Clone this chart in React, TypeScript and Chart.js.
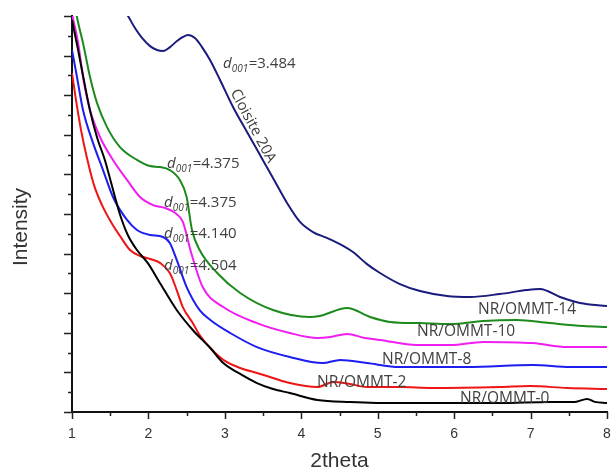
import React, { useEffect, useRef } from "react";
import { Chart, registerables } from "chart.js";

Chart.register(...registerables);

// ---- Data ----
const xTickLabels = ["1", "2", "3", "4", "5", "6", "7", "8"];

const cloisiteX = [1.68, 1.733, 1.824, 1.916, 2.021, 2.112, 2.191, 2.282, 2.374, 2.452, 2.518, 2.609, 2.701, 2.806, 2.937, 3.107, 3.29, 3.46, 3.63, 3.813, 3.983, 4.153, 4.336, 4.506, 4.676, 4.86, 5.03, 5.291, 5.553, 5.906, 6.207, 6.6, 6.953, 7.123, 7.385, 7.647, 8.0];
const cloisiteY = [20.3, 20.0, 19.39, 18.89, 18.48, 18.28, 18.23, 18.43, 18.74, 18.94, 19.04, 18.89, 18.43, 17.78, 16.77, 15.4, 14.14, 12.98, 11.82, 10.56, 9.6, 9.09, 8.79, 8.48, 8.08, 7.47, 7.02, 6.46, 6.11, 5.86, 5.81, 5.96, 6.16, 6.21, 5.81, 5.51, 5.35];

const ommt14X = [1.0, 1.065, 1.144, 1.236, 1.327, 1.458, 1.628, 1.85, 2.02, 2.15, 2.28, 2.41, 2.5, 2.57, 2.67, 2.9, 3.2, 3.63, 4.11, 4.24, 4.6, 4.9, 5.16, 5.55, 5.95, 6.38, 6.82, 7.25, 7.69, 8.0];
const ommt14Y = [21.5, 19.95, 18.64, 16.92, 15.61, 14.39, 13.38, 12.73, 12.42, 12.37, 12.22, 11.72, 10.86, 9.19, 8.18, 7.02, 6.01, 5.15, 4.8, 4.85, 5.25, 4.8, 4.55, 4.49, 4.44, 4.6, 4.65, 4.49, 4.34, 4.29];

const ommt10X = [1.0, 1.08, 1.144, 1.236, 1.366, 1.536, 1.72, 1.89, 2.06, 2.22, 2.35, 2.45, 2.56, 2.71, 2.98, 3.42, 3.85, 4.21, 4.38, 4.6, 4.83, 5.03, 5.51, 5.95, 6.38, 7.03, 7.48, 8.0];
const ommt10Y = [20.1, 18.64, 16.92, 15.25, 13.89, 12.73, 11.72, 10.86, 10.45, 10.3, 10.05, 9.6, 8.03, 6.31, 5.3, 4.49, 3.99, 3.74, 3.79, 3.94, 3.74, 3.64, 3.38, 3.38, 3.54, 3.48, 3.28, 3.28];

const ommt8X = [1.0, 1.065, 1.144, 1.275, 1.406, 1.536, 1.72, 1.85, 2.02, 2.19, 2.28, 2.37, 2.5, 2.67, 2.81, 3.07, 3.42, 3.85, 4.28, 4.51, 4.86, 5.29, 6.17, 7.03, 7.52, 8.0];
const ommt8Y = [18.28, 16.92, 15.25, 13.59, 12.22, 10.86, 9.7, 9.19, 8.94, 8.84, 8.54, 7.68, 6.31, 5.15, 4.65, 3.99, 3.28, 2.78, 2.47, 2.63, 2.47, 2.27, 2.27, 2.37, 2.27, 2.27];

const ommt2X = [1.0, 1.052, 1.118, 1.196, 1.288, 1.393, 1.51, 1.628, 1.759, 1.89, 2.021, 2.151, 2.28, 2.37, 2.45, 2.58, 2.67, 2.81, 2.98, 3.2, 3.42, 3.63, 3.85, 4.21, 4.42, 4.64, 4.86, 5.29, 5.72, 6.6, 6.99, 7.48, 8.0];
const ommt2Y = [17.12, 15.76, 14.24, 12.83, 11.46, 10.45, 9.6, 8.89, 8.18, 7.88, 7.73, 7.53, 7.02, 6.16, 5.3, 4.49, 3.89, 3.23, 2.63, 2.22, 1.97, 1.72, 1.46, 1.26, 1.52, 1.41, 1.26, 1.26, 1.21, 1.26, 1.31, 1.21, 1.16];

const ommt0X = [1.0, 1.08, 1.16, 1.24, 1.33, 1.43, 1.52, 1.63, 1.73, 1.85, 1.99, 2.15, 2.37, 2.58, 2.81, 2.98, 3.2, 3.42, 3.63, 3.85, 4.21, 4.64, 5.29, 5.95, 6.6, 7.25, 7.58, 7.74, 7.84, 8.0];
const ommt0Y = [19.8, 18.28, 16.67, 15.15, 13.84, 12.73, 11.46, 9.95, 8.94, 8.18, 7.53, 6.52, 5.15, 4.14, 3.23, 2.47, 1.92, 1.46, 1.16, 0.96, 0.61, 0.51, 0.45, 0.45, 0.45, 0.51, 0.51, 0.66, 0.51, 0.45];

const seriesNames = ["NR/OMMT-0", "NR/OMMT-2", "NR/OMMT-8", "NR/OMMT-10", "NR/OMMT-14", "Cloisite 20A"];
const seriesX = [ommt0X, ommt2X, ommt8X, ommt10X, ommt14X, cloisiteX];
const seriesY = [ommt0Y, ommt2Y, ommt8Y, ommt10Y, ommt14Y, cloisiteY];
const seriesColors = ["#000000", "#ee1515", "#1d1df0", "#f01ef0", "#1c8a1c", "#1b1b7e"];

// d001 annotations (value text + anchor in data coords)
const dValues = ["=3.484", "=4.375", "=4.375", "=4.140", "=4.504"];
const dAnchorX = [2.976, 2.243, 2.204, 2.204, 2.204];
const dAnchorY = [17.37, 12.32, 10.35, 8.79, 7.17];

// curve name annotations
const nameTexts = ["NR/OMMT-14", "NR/OMMT-10", "NR/OMMT-8", "NR/OMMT-2", "NR/OMMT-0"];
const nameAnchorX = [6.312, 5.514, 5.056, 4.206, 6.077];
const nameAnchorY = [4.95, 3.84, 2.42, 1.26, 0.45];

const cloisiteLabel = "Cloisite 20A";
const cloisiteLabelX = 3.368;
const cloisiteLabelY = 14.44;

const TEXT_COLOR = "#404040";
const ANN_FONT = '"Open Sans"';

const decorPlugin = {
  id: "decor",
  afterDatasetsDraw(chart: any) {
    const { ctx, chartArea } = chart;
    const xs = chart.scales.x;
    const ys = chart.scales.y;
    ctx.save();
    // tick marks
    ctx.strokeStyle = "#222222";
    ctx.lineWidth = 1.5;
    ctx.beginPath();
    xs.ticks.forEach((t: any) => {
      const px = Math.round(xs.getPixelForValue(t.value)) + 0.5;
      const len = Number.isInteger(t.value) ? 7 : 4;
      ctx.moveTo(px, chartArea.bottom);
      ctx.lineTo(px, chartArea.bottom + len);
    });
    ys.ticks.forEach((t: any) => {
      const py = Math.round(ys.getPixelForValue(t.value)) + 0.5;
      const len = t.value % 2 === 0 ? 8 : 4;
      ctx.moveTo(chartArea.left - len, py);
      ctx.lineTo(chartArea.left, py);
    });
    ctx.stroke();

    ctx.fillStyle = TEXT_COLOR;
    ctx.textBaseline = "alphabetic";
    ctx.textAlign = "left";
    // d001 labels
    for (let i = 0; i < dValues.length; i++) {
      const px = xs.getPixelForValue(dAnchorX[i]);
      const py = ys.getPixelForValue(dAnchorY[i]);
      ctx.font = `italic 15px ${ANN_FONT}`;
      ctx.fillText("d", px, py);
      let w = ctx.measureText("d").width;
      ctx.font = `italic 10px ${ANN_FONT}`;
      ctx.fillText("001", px + w, py + 4);
      w += ctx.measureText("001").width;
      ctx.font = `15px ${ANN_FONT}`;
      ctx.fillText(dValues[i], px + w + 0.5, py);
    }
    // name labels
    ctx.font = `15.5px ${ANN_FONT}`;
    for (let i = 0; i < nameTexts.length; i++) {
      ctx.fillText(nameTexts[i], xs.getPixelForValue(nameAnchorX[i]), ys.getPixelForValue(nameAnchorY[i]));
    }
    // rotated Cloisite label
    ctx.save();
    ctx.font = `15px ${ANN_FONT}`;
    ctx.translate(xs.getPixelForValue(cloisiteLabelX), ys.getPixelForValue(cloisiteLabelY));
    ctx.rotate((62 * Math.PI) / 180);
    ctx.textAlign = "center";
    ctx.textBaseline = "middle";
    ctx.fillText(cloisiteLabel, 0, 0);
    ctx.restore();

    // y axis title
    ctx.save();
    ctx.fillStyle = "#333333";
    ctx.font = '21px "Liberation Sans"';
    ctx.translate(21.5, (chartArea.top + chartArea.bottom) / 2 + 13);
    ctx.rotate(-Math.PI / 2);
    ctx.textAlign = "center";
    ctx.textBaseline = "middle";
    ctx.fillText("Intensity", 0, 0);
    ctx.restore();

    ctx.restore();
  },
};

export default function App() {
  const canvasRef = useRef<HTMLCanvasElement | null>(null);

  useEffect(() => {
    if (!canvasRef.current) return;
    const datasets = seriesNames.map((name, i) => ({
      label: name,
      data: seriesX[i].map((x, j) => ({ x, y: seriesY[i][j] })),
      borderColor: seriesColors[i],
      backgroundColor: seriesColors[i],
      borderWidth: 2,
      pointRadius: 0,
      cubicInterpolationMode: "monotone" as const,
      fill: false,
    }));
    const chart = new Chart(canvasRef.current, {
      type: "line",
      data: { datasets },
      options: {
        animation: false,
        responsive: true,
        maintainAspectRatio: false,
        layout: { padding: { top: 16, right: 4, left: 0, bottom: 0 } },
        plugins: { legend: { display: false }, tooltip: { enabled: false } },
        scales: {
          x: {
            type: "linear",
            min: 1,
            max: 8,
            afterFit: (scale: any) => {
              scale.height = 59;
              scale.paddingLeft = 0;
              scale.paddingRight = 0;
            },
            grid: { display: true, drawOnChartArea: false, drawTicks: false },
            border: { display: true, color: "#111111", width: 2 },
            ticks: {
              stepSize: 0.5,
              autoSkip: false,
              maxRotation: 0,
              padding: 14,
              color: "#333333",
              font: { family: "Liberation Sans", size: 14 },
              callback: (value: any) => {
                const v = Number(value);
                return Number.isInteger(v) ? xTickLabels[v - 1] : "";
              },
            },
            title: {
              display: true,
              text: "2theta",
              color: "#333333",
              font: { family: "Liberation Sans", size: 21, lineHeight: 0.9 },
              padding: { top: 0, bottom: 0 },
            },
          },
          y: {
            type: "linear",
            min: 0,
            max: 20,
            afterFit: (scale: any) => {
              scale.width = 72;
              scale.paddingTop = 0;
              scale.paddingBottom = 0;
            },
            grid: { display: true, drawOnChartArea: false, drawTicks: false },
            border: { display: true, color: "#111111", width: 2 },
            ticks: { stepSize: 1, display: false },
          },
        },
      },
      plugins: [decorPlugin],
    });
    return () => chart.destroy();
  }, []);

  return (
    <div style={{ position: "absolute", left: 0, top: 0, width: 611, height: 471, background: "#fff" }}>
      <canvas ref={canvasRef} />
    </div>
  );
}
